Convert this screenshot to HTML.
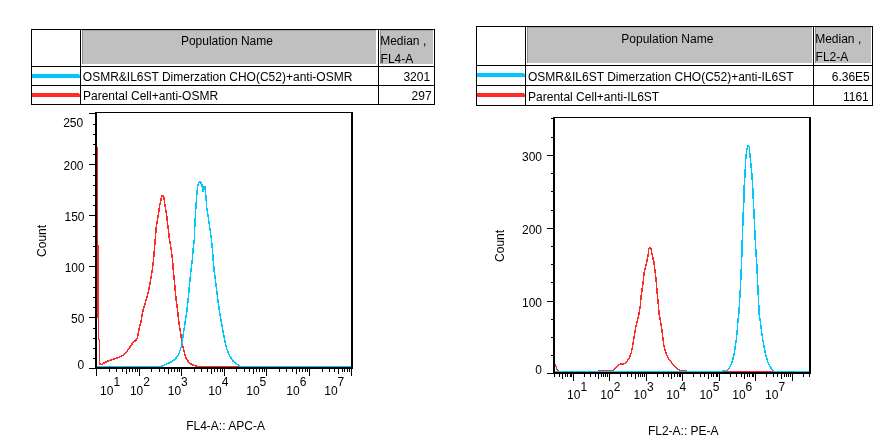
<!DOCTYPE html>
<html><head><meta charset="utf-8"><style>
html,body{margin:0;padding:0;background:#fff;width:885px;height:448px;overflow:hidden}
svg{display:block;will-change:transform}
text{shape-rendering:auto}
polyline{shape-rendering:crispEdges}
</style></head><body>
<svg width="885" height="448" viewBox="0 0 885 448" shape-rendering="crispEdges"><rect x="97" y="147" width="1" height="171" fill="#ff2a2a"/><rect x="98" y="245" width="1" height="95" fill="#ff2a2a"/><rect x="99" y="339" width="1" height="25" fill="#ff2a2a"/>
<polyline points="99.5,363.5 100.3,364.3 101.8,364.5 103.4,363.3 108,361 112.75,359.4 117.4,357.8 122.9,355.5 126.8,351.6 130.7,346.1 133,342.5 135.9,340.3 137.4,337.5 139.3,328.1 140.9,321.9 143.2,309.4 145,303.75 146.9,297.5 148.75,290 150.6,280 152.25,270 153.5,260 154.4,250 155.2,240 156.25,227.5 158.5,214 159.5,206 160.7,201 161.5,197 162.3,195.6 163.3,195.6 164,197.5 164.5,202 165,205 166,211 166.6,215 168.1,227.5 169.5,240 171.25,250 172.5,260 173.3,270 174.3,280 175.2,290 176.1,300 177.3,307.8 178.6,320.3 180.5,332.8 182,342.2 183.6,350 185.9,357.8 189,362.5 192.2,364.8 195.3,365.6 197,366.5 350.5,366.5" fill="none" stroke="#ff2a2a" stroke-width="1.5" stroke-linejoin="round"/>
<polyline points="97,366.5 160.9,366.5 165.6,364.4 170.3,362.5 175,359.4 178.9,353.9 181.25,346.9 182.8,337.5 184.7,325 186.7,312.5 188.1,300 189,290 190,280 191,270 192.25,260 193.1,250 194.25,240 195,222 195.75,209.5 196.6,197 197.5,187 198.5,183.25 200,181.4 201.6,183.9 202.3,187 203,191 203.6,187.2 205,186.8 205.6,193 206,197 206.6,207 207.9,214.5 209.5,226 211.2,237.5 212.5,250 213.2,260 214.3,271.9 216,284.4 217.3,295 219,308.2 221.5,323.1 224,336.3 226.4,347.9 229.75,356.2 233,361.1 237.2,364.4 240.5,366.5 350.5,366.5" fill="none" stroke="#00c8ff" stroke-width="1.5" stroke-linejoin="round"/>
<polyline points="555,364.1 555.3,366.3 556.25,366.9 556.6,368.5 557.5,370 558.75,371.5 598.6,371.5 598.6,370.5 612.3,370.5 613.4,370.2 615.5,368.3 617.8,365.9 620.2,364 623.3,364 625.6,363.1 628.75,358.9 631.1,353.4 632.7,345.6 634.2,336.25 635.8,326.9 637.3,320.6 638.9,314.4 640.3,305.6 641.25,294.7 643,284 643.8,276 644.6,270 645.5,267 646.5,263 647.5,258 648.3,254 648.8,249 649.5,247.6 650.5,247.6 651.2,250 652,254 653,258.5 654,262 654.6,268 655.3,272.8 656.4,283.75 657.3,294.7 658.4,305.6 659.2,314.4 660.2,320 661.2,325.3 661.9,330 662.7,337 663.9,345.6 664.6,348.5 666.25,353.75 668.75,358.75 671.9,363.1 675,366.9 678.1,369.4 680.6,370.5 686.25,370.5 686.5,371.5 808.5,371.5" fill="none" stroke="#ff2a2a" stroke-width="1.5" stroke-linejoin="round"/>
<polyline points="555,371.5 722,371.5 722.5,370.5 727,370.5 729.5,367.5 732,362.5 733.9,355 735.1,347.5 736.4,338.75 737.25,330 738,320 738.8,314.1 740.3,289.6 741.6,262 742.3,239 743.1,215.6 743.9,200 744.2,186.6 745,174 745.8,158.4 746.9,149 748.1,145.6 749.2,146.7 750,155.3 750.8,163.1 751.9,174 752.7,186.6 753.3,200 754.1,215.6 755.2,239 756.4,259.4 756.8,265 758,289.6 759.2,314.1 760.1,320 761.4,330 762.6,338.75 764.25,347.5 765.75,355 768,362.5 770.1,366.9 772.6,370 774.5,371.5 808.5,371.5" fill="none" stroke="#00c8ff" stroke-width="1.5" stroke-linejoin="round"/>
<rect x="82" y="30" width="294" height="34" fill="#c0c0c0"/>
<rect x="82" y="30" width="294" height="1" fill="#a4a4a4"/>
<rect x="82" y="30" width="1" height="34" fill="#8c8c8c"/>
<rect x="380" y="30" width="53" height="34" fill="#c0c0c0"/>
<rect x="380" y="30" width="53" height="1" fill="#a4a4a4"/>
<rect x="380" y="30" width="1" height="34" fill="#8c8c8c"/>
<rect x="32" y="74" width="47" height="4" fill="#00c8ff"/>
<rect x="79" y="75" width="1" height="3" fill="#00c8ff"/>
<rect x="32" y="93" width="47" height="4" fill="#ff2a2a"/>
<rect x="79" y="94" width="1" height="3" fill="#ff2a2a"/>
<rect x="31" y="29" width="404" height="1" fill="#000"/>
<rect x="31" y="104" width="404" height="1" fill="#000"/>
<rect x="31" y="66" width="404" height="1" fill="#000"/>
<rect x="31" y="85" width="404" height="1" fill="#000"/>
<rect x="31" y="29" width="1" height="76" fill="#000"/>
<rect x="434" y="29" width="1" height="76" fill="#000"/>
<rect x="80" y="29" width="1" height="76" fill="#000"/>
<rect x="378" y="29" width="1" height="76" fill="#000"/>
<rect x="527" y="27" width="285" height="36" fill="#c0c0c0"/>
<rect x="527" y="27" width="285" height="1" fill="#a4a4a4"/>
<rect x="527" y="27" width="1" height="36" fill="#8c8c8c"/>
<rect x="815" y="27" width="56" height="36" fill="#c0c0c0"/>
<rect x="815" y="27" width="56" height="1" fill="#a4a4a4"/>
<rect x="815" y="27" width="1" height="36" fill="#8c8c8c"/>
<rect x="477" y="73" width="47" height="4" fill="#00c8ff"/>
<rect x="524" y="74" width="1" height="3" fill="#00c8ff"/>
<rect x="477" y="93" width="47" height="4" fill="#ff2a2a"/>
<rect x="524" y="94" width="1" height="3" fill="#ff2a2a"/>
<rect x="476" y="26" width="397" height="1" fill="#000"/>
<rect x="476" y="105" width="397" height="1" fill="#000"/>
<rect x="476" y="65" width="397" height="1" fill="#000"/>
<rect x="476" y="85" width="397" height="1" fill="#000"/>
<rect x="476" y="26" width="1" height="80" fill="#000"/>
<rect x="872" y="26" width="1" height="80" fill="#000"/>
<rect x="525" y="26" width="1" height="80" fill="#000"/>
<rect x="813" y="26" width="1" height="80" fill="#000"/>
<g font-family="Liberation Sans, sans-serif" font-size="12" fill="#000">
<text x="180.9" y="45">Population Name</text>
<text x="380.2" y="45">Median ,</text>
<text x="380.6" y="62.6">FL4-A</text>
<text x="82.8" y="81">OSMR&amp;IL6ST Dimerzation CHO(C52)+anti-OSMR</text>
<text x="83" y="100">Parental Cell+anti-OSMR</text>
<text x="430.1" y="81" text-anchor="end">3201</text>
<text x="431.6" y="100" text-anchor="end">297</text>
<text x="621.3" y="43">Population Name</text>
<text x="815.2" y="43">Median ,</text>
<text x="815.6" y="60.7">FL2-A</text>
<text x="528" y="81">OSMR&amp;IL6ST Dimerzation CHO(C52)+anti-IL6ST</text>
<text x="528.1" y="101">Parental Cell+anti-IL6ST</text>
<text x="869.8" y="81" text-anchor="end">6.36E5</text>
<text x="868.75" y="101" text-anchor="end">1161</text>
</g>
<rect x="95" y="112" width="258" height="1" fill="#000"/>
<rect x="95" y="112" width="2" height="257" fill="#000"/>
<rect x="351" y="112" width="2" height="257" fill="#000"/>
<rect x="95" y="367" width="258" height="2" fill="#000"/>
<rect x="89" y="368" width="6" height="1" fill="#000"/>
<rect x="93" y="358" width="2" height="1" fill="#000"/>
<rect x="93" y="348" width="2" height="1" fill="#000"/>
<rect x="93" y="338" width="2" height="1" fill="#000"/>
<rect x="93" y="328" width="2" height="1" fill="#000"/>
<rect x="89" y="317" width="6" height="1" fill="#000"/>
<rect x="93" y="307" width="2" height="1" fill="#000"/>
<rect x="93" y="297" width="2" height="1" fill="#000"/>
<rect x="93" y="287" width="2" height="1" fill="#000"/>
<rect x="93" y="277" width="2" height="1" fill="#000"/>
<rect x="89" y="266" width="6" height="1" fill="#000"/>
<rect x="93" y="256" width="2" height="1" fill="#000"/>
<rect x="93" y="246" width="2" height="1" fill="#000"/>
<rect x="93" y="236" width="2" height="1" fill="#000"/>
<rect x="93" y="226" width="2" height="1" fill="#000"/>
<rect x="89" y="215" width="6" height="1" fill="#000"/>
<rect x="93" y="205" width="2" height="1" fill="#000"/>
<rect x="93" y="195" width="2" height="1" fill="#000"/>
<rect x="93" y="185" width="2" height="1" fill="#000"/>
<rect x="93" y="175" width="2" height="1" fill="#000"/>
<rect x="89" y="164" width="6" height="1" fill="#000"/>
<rect x="93" y="154" width="2" height="1" fill="#000"/>
<rect x="93" y="144" width="2" height="1" fill="#000"/>
<rect x="93" y="134" width="2" height="1" fill="#000"/>
<rect x="93" y="124" width="2" height="1" fill="#000"/>
<rect x="89" y="113" width="6" height="1" fill="#000"/>
<rect x="96" y="369" width="1" height="7" fill="#000"/>
<rect x="109" y="369" width="1" height="3" fill="#000"/>
<rect x="116" y="369" width="1" height="3" fill="#000"/>
<rect x="122" y="369" width="1" height="3" fill="#000"/>
<rect x="126" y="369" width="1" height="5" fill="#000"/>
<rect x="129" y="369" width="1" height="3" fill="#000"/>
<rect x="132" y="369" width="1" height="3" fill="#000"/>
<rect x="135" y="369" width="1" height="3" fill="#000"/>
<rect x="137" y="369" width="1" height="3" fill="#000"/>
<rect x="139" y="369" width="1" height="7" fill="#000"/>
<rect x="151" y="369" width="1" height="3" fill="#000"/>
<rect x="159" y="369" width="1" height="3" fill="#000"/>
<rect x="164" y="369" width="1" height="3" fill="#000"/>
<rect x="168" y="369" width="1" height="5" fill="#000"/>
<rect x="171" y="369" width="1" height="3" fill="#000"/>
<rect x="174" y="369" width="1" height="3" fill="#000"/>
<rect x="177" y="369" width="1" height="3" fill="#000"/>
<rect x="179" y="369" width="1" height="3" fill="#000"/>
<rect x="181" y="369" width="1" height="7" fill="#000"/>
<rect x="194" y="369" width="1" height="3" fill="#000"/>
<rect x="201" y="369" width="1" height="3" fill="#000"/>
<rect x="207" y="369" width="1" height="3" fill="#000"/>
<rect x="211" y="369" width="1" height="5" fill="#000"/>
<rect x="214" y="369" width="1" height="3" fill="#000"/>
<rect x="217" y="369" width="1" height="3" fill="#000"/>
<rect x="220" y="369" width="1" height="3" fill="#000"/>
<rect x="222" y="369" width="1" height="3" fill="#000"/>
<rect x="224" y="369" width="1" height="7" fill="#000"/>
<rect x="236" y="369" width="1" height="3" fill="#000"/>
<rect x="244" y="369" width="1" height="3" fill="#000"/>
<rect x="249" y="369" width="1" height="3" fill="#000"/>
<rect x="253" y="369" width="1" height="5" fill="#000"/>
<rect x="256" y="369" width="1" height="3" fill="#000"/>
<rect x="259" y="369" width="1" height="3" fill="#000"/>
<rect x="262" y="369" width="1" height="3" fill="#000"/>
<rect x="264" y="369" width="1" height="3" fill="#000"/>
<rect x="266" y="369" width="1" height="7" fill="#000"/>
<rect x="279" y="369" width="1" height="3" fill="#000"/>
<rect x="286" y="369" width="1" height="3" fill="#000"/>
<rect x="292" y="369" width="1" height="3" fill="#000"/>
<rect x="296" y="369" width="1" height="5" fill="#000"/>
<rect x="299" y="369" width="1" height="3" fill="#000"/>
<rect x="302" y="369" width="1" height="3" fill="#000"/>
<rect x="305" y="369" width="1" height="3" fill="#000"/>
<rect x="307" y="369" width="1" height="3" fill="#000"/>
<rect x="309" y="369" width="1" height="7" fill="#000"/>
<rect x="322" y="369" width="1" height="3" fill="#000"/>
<rect x="329" y="369" width="1" height="3" fill="#000"/>
<rect x="334" y="369" width="1" height="3" fill="#000"/>
<rect x="338" y="369" width="1" height="5" fill="#000"/>
<rect x="342" y="369" width="1" height="3" fill="#000"/>
<rect x="344" y="369" width="1" height="3" fill="#000"/>
<rect x="347" y="369" width="1" height="3" fill="#000"/>
<rect x="349" y="369" width="1" height="3" fill="#000"/>
<rect x="351" y="369" width="1" height="7" fill="#000"/>
<rect x="553" y="117" width="258" height="1" fill="#000"/>
<rect x="553" y="117" width="2" height="257" fill="#000"/>
<rect x="809" y="117" width="2" height="257" fill="#000"/>
<rect x="553" y="372" width="258" height="2" fill="#000"/>
<rect x="551" y="118" width="2" height="1" fill="#000"/>
<rect x="551" y="137" width="2" height="1" fill="#000"/>
<rect x="547" y="155" width="6" height="1" fill="#000"/>
<rect x="551" y="173" width="2" height="1" fill="#000"/>
<rect x="551" y="191" width="2" height="1" fill="#000"/>
<rect x="551" y="210" width="2" height="1" fill="#000"/>
<rect x="547" y="228" width="6" height="1" fill="#000"/>
<rect x="551" y="246" width="2" height="1" fill="#000"/>
<rect x="551" y="264" width="2" height="1" fill="#000"/>
<rect x="551" y="282" width="2" height="1" fill="#000"/>
<rect x="547" y="301" width="6" height="1" fill="#000"/>
<rect x="551" y="319" width="2" height="1" fill="#000"/>
<rect x="551" y="337" width="2" height="1" fill="#000"/>
<rect x="551" y="355" width="2" height="1" fill="#000"/>
<rect x="547" y="373" width="6" height="1" fill="#000"/>
<rect x="554" y="374" width="1" height="3" fill="#000"/>
<rect x="559" y="374" width="1" height="3" fill="#000"/>
<rect x="562" y="374" width="1" height="5" fill="#000"/>
<rect x="565" y="374" width="1" height="3" fill="#000"/>
<rect x="567" y="374" width="1" height="3" fill="#000"/>
<rect x="570" y="374" width="1" height="3" fill="#000"/>
<rect x="571" y="374" width="1" height="3" fill="#000"/>
<rect x="573" y="374" width="1" height="7" fill="#000"/>
<rect x="584" y="374" width="1" height="3" fill="#000"/>
<rect x="590" y="374" width="1" height="3" fill="#000"/>
<rect x="595" y="374" width="1" height="3" fill="#000"/>
<rect x="598" y="374" width="1" height="5" fill="#000"/>
<rect x="601" y="374" width="1" height="3" fill="#000"/>
<rect x="603" y="374" width="1" height="3" fill="#000"/>
<rect x="605" y="374" width="1" height="3" fill="#000"/>
<rect x="607" y="374" width="1" height="3" fill="#000"/>
<rect x="609" y="374" width="1" height="7" fill="#000"/>
<rect x="620" y="374" width="1" height="3" fill="#000"/>
<rect x="627" y="374" width="1" height="3" fill="#000"/>
<rect x="631" y="374" width="1" height="3" fill="#000"/>
<rect x="635" y="374" width="1" height="5" fill="#000"/>
<rect x="638" y="374" width="1" height="3" fill="#000"/>
<rect x="640" y="374" width="1" height="3" fill="#000"/>
<rect x="642" y="374" width="1" height="3" fill="#000"/>
<rect x="644" y="374" width="1" height="3" fill="#000"/>
<rect x="646" y="374" width="1" height="7" fill="#000"/>
<rect x="657" y="374" width="1" height="3" fill="#000"/>
<rect x="663" y="374" width="1" height="3" fill="#000"/>
<rect x="668" y="374" width="1" height="3" fill="#000"/>
<rect x="671" y="374" width="1" height="5" fill="#000"/>
<rect x="674" y="374" width="1" height="3" fill="#000"/>
<rect x="677" y="374" width="1" height="3" fill="#000"/>
<rect x="679" y="374" width="1" height="3" fill="#000"/>
<rect x="680" y="374" width="1" height="3" fill="#000"/>
<rect x="682" y="374" width="1" height="7" fill="#000"/>
<rect x="693" y="374" width="1" height="3" fill="#000"/>
<rect x="700" y="374" width="1" height="3" fill="#000"/>
<rect x="704" y="374" width="1" height="3" fill="#000"/>
<rect x="708" y="374" width="1" height="5" fill="#000"/>
<rect x="711" y="374" width="1" height="3" fill="#000"/>
<rect x="713" y="374" width="1" height="3" fill="#000"/>
<rect x="716" y="374" width="1" height="3" fill="#000"/>
<rect x="717" y="374" width="1" height="3" fill="#000"/>
<rect x="719" y="374" width="1" height="7" fill="#000"/>
<rect x="730" y="374" width="1" height="3" fill="#000"/>
<rect x="736" y="374" width="1" height="3" fill="#000"/>
<rect x="741" y="374" width="1" height="3" fill="#000"/>
<rect x="744" y="374" width="1" height="5" fill="#000"/>
<rect x="747" y="374" width="1" height="3" fill="#000"/>
<rect x="749" y="374" width="1" height="3" fill="#000"/>
<rect x="752" y="374" width="1" height="3" fill="#000"/>
<rect x="753" y="374" width="1" height="3" fill="#000"/>
<rect x="755" y="374" width="1" height="7" fill="#000"/>
<rect x="766" y="374" width="1" height="3" fill="#000"/>
<rect x="773" y="374" width="1" height="3" fill="#000"/>
<rect x="777" y="374" width="1" height="3" fill="#000"/>
<rect x="781" y="374" width="1" height="5" fill="#000"/>
<rect x="784" y="374" width="1" height="3" fill="#000"/>
<rect x="786" y="374" width="1" height="3" fill="#000"/>
<rect x="788" y="374" width="1" height="3" fill="#000"/>
<rect x="790" y="374" width="1" height="3" fill="#000"/>
<rect x="792" y="374" width="1" height="7" fill="#000"/>
<rect x="803" y="374" width="1" height="3" fill="#000"/>
<rect x="809" y="374" width="1" height="3" fill="#000"/>
<g font-family="Liberation Sans, sans-serif" font-size="12" fill="#000">
<text x="83.2" y="127" text-anchor="end">250</text>
<text x="83.5" y="170" text-anchor="end">200</text>
<text x="84.5" y="221" text-anchor="end">150</text>
<text x="84.7" y="272" text-anchor="end">100</text>
<text x="84.4" y="323" text-anchor="end">50</text>
<text x="84.2" y="369" text-anchor="end">0</text>
<text x="542" y="161" text-anchor="end">300</text>
<text x="542" y="234" text-anchor="end">200</text>
<text x="542" y="307" text-anchor="end">100</text>
<text x="542" y="374" text-anchor="end">0</text>
<text x="100.12" y="395">10<tspan dy="-9">1</tspan></text>
<text x="129.93" y="395">10<tspan dy="-9">2</tspan></text>
<text x="167.72" y="395">10<tspan dy="-9">3</tspan></text>
<text x="208.32" y="395">10<tspan dy="-9">4</tspan></text>
<text x="246.22" y="395">10<tspan dy="-9">5</tspan></text>
<text x="286.32" y="395">10<tspan dy="-9">6</tspan></text>
<text x="324.23" y="395">10<tspan dy="-9">7</tspan></text>
<text x="567.02" y="399.3">10<tspan dy="-8.5">1</tspan></text>
<text x="600.33" y="399.3">10<tspan dy="-8.5">2</tspan></text>
<text x="633.52" y="399.3">10<tspan dy="-8.5">3</tspan></text>
<text x="666.23" y="399.3">10<tspan dy="-8.5">4</tspan></text>
<text x="699.42" y="399.3">10<tspan dy="-8.5">5</tspan></text>
<text x="732.23" y="399.3">10<tspan dy="-8.5">6</tspan></text>
<text x="765.12" y="399.3">10<tspan dy="-8.5">7</tspan></text>
<text transform="translate(45.9,256.9) rotate(-90)">Count</text>
<text transform="translate(504,261.9) rotate(-90)">Count</text>
<text x="186.2" y="430">FL4-A:: APC-A</text>
<text x="647.9" y="435">FL2-A:: PE-A</text>
</g></svg>
</body></html>
